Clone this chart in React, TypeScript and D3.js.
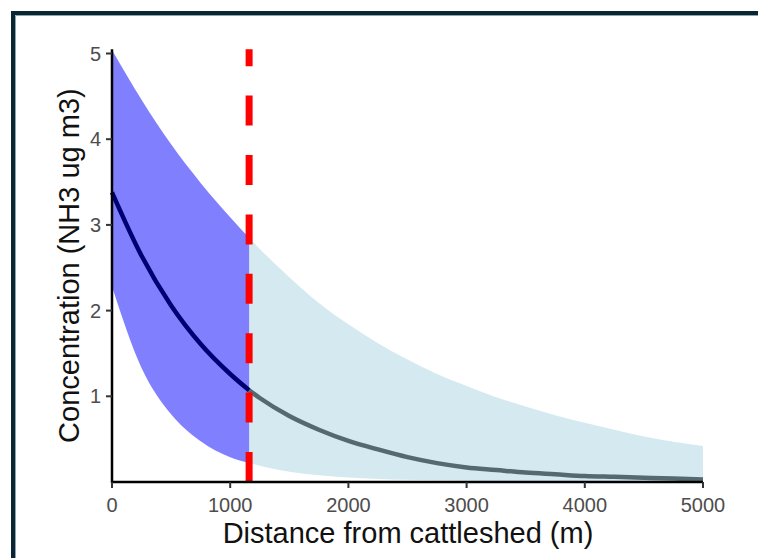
import React from "react";
import * as d3 from "d3";

// Modelled NH3 concentration with distance from the cattleshed
const distance = [0, 250, 500, 750, 1000, 1160, 1250, 1500, 1750, 2000, 2250, 2500, 2750, 3000, 3250, 3500, 3750, 4000, 4250, 4500, 4750, 5000];
const meanConc = [3.38, 2.64, 2.06, 1.61, 1.26, 1.07, 0.98, 0.77, 0.61, 0.48, 0.38, 0.29, 0.22, 0.17, 0.14, 0.11, 0.09, 0.07, 0.06, 0.05, 0.04, 0.03];
const upperCI = [5.04, 4.46, 3.94, 3.49, 3.09, 2.85, 2.72, 2.39, 2.09, 1.84, 1.62, 1.43, 1.26, 1.12, 0.99, 0.88, 0.78, 0.69, 0.61, 0.53, 0.47, 0.42];
const lowerCI = [2.28, 1.33, 0.79, 0.476, 0.29, 0.225, 0.19, 0.12, 0.078, 0.052, 0.036, 0.026, 0.02, 0.016, 0.013, 0.011, 0.01, 0.009, 0.008, 0.007, 0.007, 0.006];
const thresholdDistance = 1160;
const xTicks = [0, 1000, 2000, 3000, 4000, 5000];
const yTicks = [1, 2, 3, 4, 5];
const yMax = 5.05;

const W = 758;
const H = 558;

export default function App() {
  const x = d3.scaleLinear().domain([0, 5000]).range([112, 703]);
  const y = d3.scaleLinear().domain([0, 5]).range([482, 53.5]);

  const rows = distance.map((d, i) => ({ d, m: meanConc[i], lo: lowerCI[i], hi: upperCI[i] }));
  const near = rows.filter((r) => r.d <= thresholdDistance);
  const far = rows.filter((r) => r.d >= thresholdDistance);

  const band = d3
    .area<any>()
    .x((r) => x(r.d))
    .y0((r) => y(r.lo))
    .y1((r) => y(r.hi))
    .curve(d3.curveMonotoneX);
  const line = d3
    .line<any>()
    .x((r) => x(r.d))
    .y((r) => y(r.m))
    .curve(d3.curveMonotoneX);

  const font = "'Liberation Sans', Arial, sans-serif";
  const x0 = x(0);
  const y0 = y(0);

  return (
    <svg
      width={W}
      height={H}
      style={{ position: "fixed", left: 0, top: 0, background: "#fff" }}
      fontFamily={font}
    >
      <rect x={0} y={0} width={W} height={H} fill="#fff" />
      {/* frame */}
      <path d={`M13,${H} V13 H${W}`} fill="none" stroke="#0b2533" strokeWidth={4} />
      <path d={`M15.5,${H} V15.5 H${W}`} fill="none" stroke="#8fa3ad" strokeWidth={1} />

      {/* confidence bands */}
      <path d={band(far) || ""} fill="#d5e9f0" />
      <path d={band(near) || ""} fill="#8080ff" />

      {/* fitted mean */}
      <path d={line(far) || ""} fill="none" stroke="#546a70" strokeWidth={4.5} />
      <path d={line(near) || ""} fill="none" stroke="#000075" strokeWidth={4.5} />

      {/* threshold distance */}
      <line
        x1={x(thresholdDistance)}
        x2={x(thresholdDistance)}
        y1={y0}
        y2={y(yMax)}
        stroke="#ff0000"
        strokeWidth={7}
        strokeDasharray="30 29.4"
      />

      {/* axes */}
      <line x1={x0 - 1} x2={x(5000)} y1={y0} y2={y0} stroke="#000" strokeWidth={2.5} />
      <line x1={x0} x2={x0} y1={y0 + 1} y2={y(yMax)} stroke="#000" strokeWidth={2.5} />

      {xTicks.map((t) => (
        <g key={"x" + t}>
          <line x1={x(t)} x2={x(t)} y1={y0} y2={y0 + 6} stroke="#333" strokeWidth={2} />
          <text x={x(t)} y={512} textAnchor="middle" fontSize={20} fill="#4d4d4d">
            {t}
          </text>
        </g>
      ))}
      {yTicks.map((t) => (
        <g key={"y" + t}>
          <line x1={x0 - 6} x2={x0} y1={y(t)} y2={y(t)} stroke="#333" strokeWidth={2} />
          <text x={101} y={y(t) + 7} textAnchor="end" fontSize={20} fill="#4d4d4d">
            {t}
          </text>
        </g>
      ))}

      <text x={408} y={543} textAnchor="middle" fontSize={29} fill="#111">
        Distance from cattleshed (m)
      </text>
      <text
        transform={`translate(79, ${(y0 + y(yMax)) / 2}) rotate(-90)`}
        textAnchor="middle"
        fontSize={29}
        fill="#111"
      >
        Concentration (NH3 ug m3)
      </text>
    </svg>
  );
}
